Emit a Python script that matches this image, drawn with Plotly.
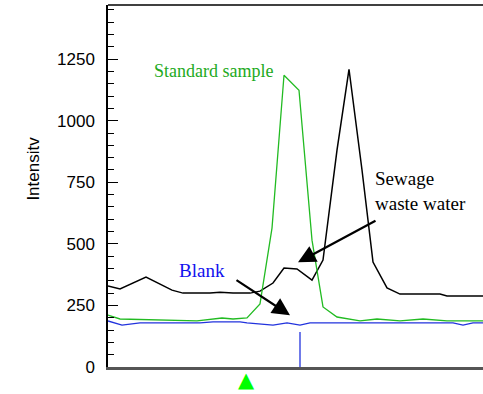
import plotly.graph_objects as go

# time axis (arbitrary units) and intensities
sewage_t = [0, 0.48, 1.52, 2.56, 3.0, 4.08, 4.48, 5.0, 5.68, 6.08, 6.6, 7.04, 7.56, 8.16, 8.6, 9.16, 9.64, 10.16, 10.6, 11.16, 11.68, 13.28, 13.56, 15]
sewage_v = [329, 317, 365, 312, 300, 300, 304, 300, 300, 308, 341, 402, 398, 353, 434, 881, 1209, 800, 426, 321, 296, 296, 288, 288]

standard_t = [0, 0.48, 3.56, 4.56, 5.0, 5.56, 6.08, 6.56, 7.04, 7.64, 8.16, 8.6, 9.16, 10.08, 10.76, 11.68, 12.6, 13.56, 15]
standard_v = [211, 195, 187, 199, 195, 199, 256, 564, 1185, 1124, 515, 244, 203, 187, 195, 187, 195, 187, 187]

blank_t = [0, 0.56, 1.28, 3.68, 4.2, 5.28, 5.56, 6.6, 7.16, 7.68, 8.08, 13.8, 14.2, 14.6, 15]
blank_v = [187, 170, 179, 179, 183, 183, 179, 170, 179, 170, 179, 179, 170, 179, 179]

blank_spike_t = [7.68, 7.68]
blank_spike_v = [0, 142]

injection_t = 5.52
y_ticks = [0, 250, 500, 750, 1000, 1250]

fig = go.Figure()
fig.add_trace(go.Scatter(x=sewage_t, y=sewage_v, mode="lines", line=dict(color="black", width=1.5), showlegend=False))
fig.add_trace(go.Scatter(x=standard_t, y=standard_v, mode="lines", line=dict(color="#22bb22", width=1.3), showlegend=False))
fig.add_trace(go.Scatter(x=blank_t, y=blank_v, mode="lines", line=dict(color="#2233dd", width=1.3), showlegend=False))
fig.add_trace(go.Scatter(x=blank_spike_t, y=blank_spike_v, mode="lines", line=dict(color="#2233dd", width=1.3), showlegend=False))

serif = "Liberation Serif, Times New Roman, serif"
sans = "Liberation Sans, Arial, sans-serif"
fig.add_annotation(x=injection_t, y=-0.036, xref="x", yref="paper", yanchor="middle", text="▲", showarrow=False,
                   font=dict(family="DejaVu Sans", size=21, color="#00ff00"))
fig.add_annotation(x=4.2, y=1200, text="Standard sample", showarrow=False,
                   font=dict(family=serif, size=18, color="#22aa22"))
fig.add_annotation(x=10.6, y=715, text="Sewage<br>waste water", showarrow=False, xanchor="left", align="left",
                   font=dict(family=serif, size=19, color="black"))
fig.add_annotation(x=2.75, y=392, text="Blank", showarrow=False, xanchor="left",
                   font=dict(family=serif, size=19, color="#1111ee"))
fig.add_annotation(x=7.6, y=425, ax=10.76, ay=597, xref="x", yref="y", axref="x", ayref="y",
                   showarrow=True, arrowhead=2, arrowsize=1.6, arrowwidth=2.2, arrowcolor="black", text="")
fig.add_annotation(x=7.28, y=210, ax=5.08, ay=357, xref="x", yref="y", axref="x", ayref="y",
                   showarrow=True, arrowhead=2, arrowsize=1.6, arrowwidth=2.2, arrowcolor="black", text="")
fig.add_annotation(x=-0.229, y=0.547, xref="paper", yref="paper", text="Intensitv", textangle=-90, showarrow=False,
                   font=dict(family=sans, size=17, color="black"))

fig.update_xaxes(range=[0, 15], showticklabels=False, ticks="", showgrid=False, zeroline=False,
                 showline=True, linecolor="#555555", linewidth=2.5, mirror=False)
fig.update_yaxes(range=[0, 1470], tickvals=y_ticks, ticks="inside", ticklen=10, tickwidth=1.2, tickcolor="black",
                 minor=dict(dtick=50, ticks="inside", ticklen=6, tickcolor="black", tickwidth=1),
                 showgrid=False, zeroline=False, showline=True, linecolor="black", linewidth=1.5,
                 ticklabelstandoff=8,
                 tickfont=dict(family=sans, size=17, color="black"))
fig.add_shape(type="line", xref="paper", yref="paper", x0=0, x1=1, y0=1, y1=1, line=dict(color="black", width=1.5))

fig.update_layout(width=483, height=394, margin=dict(l=108, r=0, t=5, b=27),
                  plot_bgcolor="white", paper_bgcolor="white")
fig.write_html("out.html")
